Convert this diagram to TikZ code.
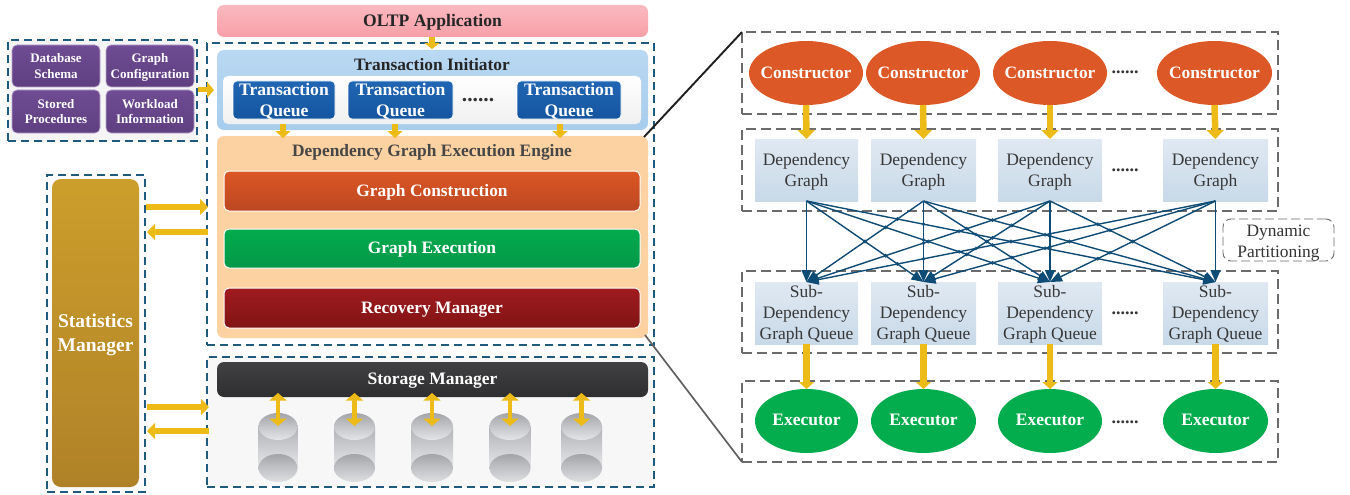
\documentclass[tikz,border=0pt]{standalone}
\usepackage{fontspec}
\setmainfont{Liberation Serif}
\usetikzlibrary{arrows.meta,calc,shapes.geometric}
\newcommand{\fs}[2]{\fontsize{#1}{#2}\selectfont}
\def\tupv{0pt}
% \bx{style}{name}{x1}{y1}{x2}{y2}{text}: tup pads the text's top, moving its ink down by half the padding
\newcommand{\bx}[7]{\node[#1,minimum width={(#5-#3)*1pt},minimum height={(#6-#4)*1pt}] (#2) at ({(#3+#5)/2},{(#4+#6)/2}) {\makebox[0pt]{\raisebox{0pt}[\dimexpr\height+\tupv-8pt\relax][\dimexpr\depth-8pt\relax]{\begin{tabular}{@{}c@{}}#7\end{tabular}}}};}
\definecolor{navy}{HTML}{1F5A80}
\definecolor{linkblue}{HTML}{0F4C75}
\definecolor{gold}{HTML}{EDBB17}
\definecolor{purpleA}{HTML}{6F4C93}
\definecolor{purpleB}{HTML}{5F3F80}
\definecolor{purpleE}{HTML}{B9A6D0}
\definecolor{queueA}{HTML}{2166B4}
\definecolor{queueB}{HTML}{14559F}
\definecolor{graphA}{HTML}{E0E9F2}
\definecolor{graphB}{HTML}{C8D9E8}
\definecolor{consFill}{HTML}{DD5827}
\definecolor{execFill}{HTML}{03AC4D}
\definecolor{statA}{HTML}{CC9E2B}
\definecolor{statB}{HTML}{B08228}
\definecolor{oltpA}{HTML}{FBB9C0}
\definecolor{oltpB}{HTML}{F79FA8}
\definecolor{initA}{HTML}{B9D8F2}
\definecolor{initB}{HTML}{A7CCEC}
\definecolor{engFill}{HTML}{FDD2A3}
\definecolor{constA}{HTML}{DC5724}
\definecolor{constB}{HTML}{BC4722}
\definecolor{execA}{HTML}{03AC4D}
\definecolor{execB}{HTML}{049748}
\definecolor{recA}{HTML}{9F1B1F}
\definecolor{recB}{HTML}{821415}
\definecolor{stoA}{HTML}{404042}
\definecolor{stoB}{HTML}{2F2F31}
\definecolor{cylA}{HTML}{B0B2B6}
\definecolor{cylB}{HTML}{E6E7E9}
\definecolor{cylC}{HTML}{A3A5A9}
\definecolor{cylD}{HTML}{DEDFE1}
\definecolor{cylE}{HTML}{E4E5E7}
\tikzset{
  tup/.code={\def\tupv{#1}},
  base/.style={inner sep=0pt,outer sep=0pt},
  navydash/.style={base,draw=navy,line width=1.5pt,dash pattern=on 8pt off 5pt,fill=#1},
  navydash/.default=white,
  graydash/.style={base,draw=black!58,line width=1.4pt,dash pattern=on 10pt off 5pt},
  purplebox/.style={base,tup=3pt,rounded corners=5pt,draw=purpleE,line width=.7pt,top color=purpleA,bottom color=purpleB,text=white,font=\bfseries\fs{13}{15.5}},
  queuebox/.style={base,tup=4pt,rounded corners=4pt,draw=white,line width=.7pt,top color=queueA,bottom color=queueB,text=white,font=\bfseries\fs{17.6}{21}},
  layerbox/.style={base,rounded corners=7pt},
  engbox/.style={base,tup=5pt,rounded corners=5pt,draw=white,line width=1pt,text=white,font=\bfseries\fs{17.4}{20}},
  graphbox/.style={base,tup=3.5pt,top color=graphA,bottom color=graphB,text=black!78,font=\fs{17.5}{21}},
  constr/.style={base,tup=5pt,ellipse,fill=consFill,text=white,font=\bfseries\fs{17.4}{20}},
  execu/.style={base,tup=3.5pt,ellipse,fill=execFill,text=white,font=\bfseries\fs{17.5}{20}},
  goldarrow/.style={draw=gold,line width=6pt,-{Triangle[width=16pt,length=8pt]}},
  goldback/.style={draw=gold,line width=4.5pt,{Triangle[width=17pt,length=7.5pt]}-{Triangle[width=17pt,length=7.5pt]}},
  linkarrow/.style={draw=linkblue,line width=1.4pt,-{Triangle[width=10pt,length=12pt]}},
  dotted text/.style={base,anchor=base,font=\bfseries\fs{18}{20},text=black!80},
}
\begin{document}
\begin{tikzpicture}[x=1pt,y=-1pt]
\useasboundingbox (0,0) rectangle (1350,495);
\fill[white] (0,0) rectangle (1350,495);
% ---- left dashed frames
\bx{navydash={black!4}}{metaframe}{8}{40}{197}{141}{}
\bx{navydash={black!2}}{statframe}{47}{175}{145}{492}{}
\bx{navydash=white}{mainframe}{207}{43}{654}{345}{}
\bx{navydash={black!3}}{storeframe}{207}{357}{654}{487}{}
% ---- metadata
\bx{purplebox}{m1}{12}{45}{100}{87}{Database\\Schema}
\bx{purplebox}{m2}{106}{45}{194}{87}{Graph\\Configuration}
\bx{purplebox}{m3}{12}{90}{100}{133}{Stored\\Procedures}
\bx{purplebox}{m4}{106}{90}{194}{133}{Workload\\Information}
% ---- statistics
\bx{layerbox,tup=4pt,top color=statA,bottom color=statB,rounded corners=9pt,text=white,font=\bfseries\fs{19.5}{24}}{stat}{52}{179}{139}{487}{Statistics\\Manager}
% ---- OLTP, initiator
\bx{layerbox,tup=6pt,top color=oltpA,bottom color=oltpB,font=\bfseries\fs{17.6}{20},text=black!85}{oltp}{217}{5}{648}{37}{OLTP Application}
\bx{layerbox,top color=initA,bottom color=initB}{init}{217}{50}{648}{130}{}
\node[base,font=\bfseries\fs{17.4}{20},text=black!85] (inittitle) at (432,65) {Transaction Initiator};
\bx{base,rounded corners=5pt,top color=white,bottom color=black!6}{qarea}{223}{76}{641}{124}{}
\bx{queuebox}{q1}{233}{81}{335}{119}{Transaction\\Queue}
\bx{queuebox}{q2}{348}{81}{453}{119}{Transaction\\Queue}
\bx{queuebox}{q3}{517}{81}{621}{119}{Transaction\\Queue}
\node[dotted text,font=\bfseries\fs{21.5}{22}] (qdots) at (478,101) {......};
% ---- engine
\bx{layerbox,fill=engFill}{engine}{217}{136}{648}{338}{}
\node[base,font=\bfseries\fs{17.4}{20},text=black!72] (enginetitle) at (432,152) {Dependency Graph Execution Engine};
\bx{engbox,top color=constA,bottom color=constB}{gc}{224}{171}{640}{211}{Graph Construction}
\bx{engbox,tup=4.5pt,top color=execA,bottom color=execB}{ge}{224}{229}{640}{268}{Graph Execution}
\bx{engbox,top color=recA,bottom color=recB}{rm}{224}{288}{640}{328}{Recovery Manager}
% ---- storage
\bx{layerbox,tup=4pt,top color=stoA,bottom color=stoB,text=white,font=\bfseries\fs{17.5}{20}}{sm}{217}{362}{648}{397}{Storage Manager}
\foreach \cx/\rx [count=\n] in {278/19.5,354.5/20.5,432/21,510/20.5,581.5/20.5}{
  \fill[top color=cylA,bottom color=cylB] (\cx-\rx,426.5) rectangle (\cx+\rx,468);
  \node[base,ellipse,minimum width={2*\rx*1pt},minimum height=28pt,top color=cylC,bottom color=cylD] (cb\n) at (\cx,468) {};
  \node[base,ellipse,minimum width={2*\rx*1pt},minimum height=27pt,top color=cylC,bottom color=cylE] (ct\n) at (\cx,426.5) {};
  \coordinate (su\n) at (\cx,393);
  \coordinate (sv\n) at (\cx,426);
  \draw[goldback] (su\n) -- (sv\n);
}
% ---- left arrows
\coordinate (a1) at (198,90); \coordinate (a2) at (214,90);
\draw[goldarrow,line width=5pt,-{Triangle[width=16pt,length=7pt]}] (a1) -- (a2);
\coordinate (o1) at (432,37); \coordinate (o2) at (432,49);
\draw[goldarrow,line width=5.5pt,-{Triangle[width=15pt,length=6pt]}] (o1) -- (o2);
\foreach \x/\n in {283/1,395/2,560/3}{
  \coordinate (qa\n) at (\x,124); \coordinate (qb\n) at (\x,138);
  \draw[goldarrow,-{Triangle[width=15pt,length=7pt]}] (qa\n) -- (qb\n);
}
\foreach \n/\xa/\ya/\xb in {1/146/207/208,2/208/232/147,3/147/407/209,4/209/431/147}{
  \coordinate (ha\n) at (\xa,\ya); \coordinate (hb\n) at (\xb,\ya);
  \draw[goldarrow,-{Triangle[width=16pt,length=8pt]}] (ha\n) -- (hb\n);
}
% ---- right panel frames
\bx{graydash}{r1}{742}{32}{1278}{114}{}
\bx{graydash}{r2}{742}{129}{1278}{211}{}
\bx{graydash}{r3}{742}{271}{1278}{353}{}
\bx{graydash}{r4}{742}{381}{1278}{462}{}
% ---- zoom lines
\coordinate (z1) at (644,137); \coordinate (z2) at (645,335);
\draw[black!88,line width=1.9pt] (z1) -- (r1.north west);
\draw[black!62,line width=1.7pt] (z2) -- (r4.south west);
% ---- right panel columns
\foreach \n/\xa/\xb/\ca/\cb in {1/755/858/749/863,2/871/976/866/980,3/998/1102/993/1107,4/1163/1268/1157/1272}{
  \bx{constr}{c\n}{\ca}{41}{\cb}{105}{Constructor}
  \bx{graphbox}{d\n}{\xa}{139}{\xb}{201}{Dependency\\Graph}
  \bx{graphbox,tup=3pt}{s\n}{\xa}{282}{\xb}{344}{Sub-\\Dependency\\Graph Queue}
  \bx{execu}{e\n}{\xa}{389}{\xb}{453}{Executor}
  \draw[goldarrow,line width=6.5pt,-{Triangle[width=17pt,length=9pt]}] (c\n.south) -- (d\n.north);
  \draw[goldarrow,line width=6.5pt,-{Triangle[width=15pt,length=7pt]}] (s\n.south) -- (e\n.north);
}
\node[dotted text] (dots1) at (1125,74) {......};
\node[dotted text] (dots2) at (1125,171) {......};
\node[dotted text] (dots3) at (1125,314) {......};
\node[dotted text] (dots4) at (1125,423) {......};
% ---- partitioning links
\foreach \i in {1,...,4}{\foreach \j in {1,...,4}{
  \draw[linkarrow] (d\i.south) -- (s\j.north);
}}
% crossing hops
\foreach \ai [count=\i] in {806.5,923.5,1050,1215.5}{
 \foreach \bj [count=\j] in {806.5,923.5,1050,1215.5}{
  \foreach \ak [count=\k] in {806.5,923.5,1050,1215.5}{
   \foreach \bl [count=\l] in {806.5,923.5,1050,1215.5}{
    \ifnum\i<\k \ifnum\j>\l
      \pgfmathsetmacro{\tval}{(\ak-\ai)/((\bj-\ai)-(\bl-\ak))}
      \pgfmathsetmacro{\hx}{\ai+\tval*(\bj-\ai)}
      \pgfmathsetmacro{\hy}{201+\tval*81}
      \draw[linkblue,line width=.6pt] (\hx,\hy) circle[radius=1.6];
    \fi\fi
   }}}}
% ---- dynamic partitioning
\bx{base,tup=6pt,draw=black!58,line width=.9pt,rounded corners=8pt,dash pattern=on 9pt off 4pt,text=black!80,font=\fs{17.4}{21}}{dp}{1223}{219}{1334}{261}{Dynamic\\Partitioning}
\end{tikzpicture}
\end{document}
